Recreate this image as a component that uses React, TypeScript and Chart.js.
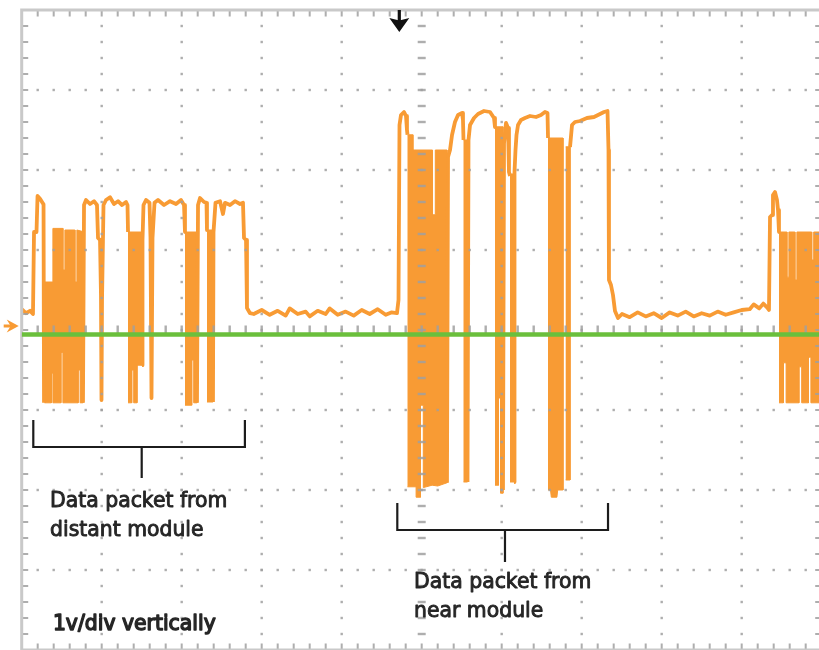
import { useEffect, useRef } from 'react';
import { Chart, registerables } from 'chart.js';

Chart.register(...registerables);

type Pair = [number, number];

// x: time in screen divisions (10 across), y: volts (1 V/div, 8 divisions)
const X_DIVISIONS = 10;
const Y_MIN_V = -4;
const Y_MAX_V = 4;
const MINOR_PER_DIV = 5;

const REFERENCE_LEVEL_V = -0.055;
const GROUND_MARKER_V = 0.05;
const TRIGGER_TIME = 4.72;

// ---- single-line parts of the trace (time, volts) ----
const traceLeadIn: Pair[] = [
  [0, 0.26], [0.054, 0.21], [0.104, 0.24], [0.141, 0.2], [0.154, 1.225], [0.185, 1.225],
  [0.198, 1.675], [0.229, 1.64], [0.26, 1.59], [0.273, 1.57], [0.279, -0.91],
];
const traceDistantAB: Pair[] = [
  [0.766, -0.91], [0.779, 1.5625], [0.804, 1.625], [0.854, 1.575], [0.904, 1.61], [0.941, 1.5625],
  [0.954, 1.15], [0.979, 1.125], [0.991, 0.4375], [0.9975, -0.875], [1.004, 0.375], [1.0225, 1.5625],
  [1.054, 1.625], [1.104, 1.66], [1.154, 1.575], [1.204, 1.61], [1.254, 1.5625], [1.304, 1.6],
  [1.3225, 1.5625], [1.329, 1.225],
];
const traceDistantBC: Pair[] = [
  [1.504, -0.44], [1.51, 1.125], [1.5225, 1.5625], [1.554, 1.625], [1.5975, 1.59], [1.61, 1.15],
  [1.6225, -0.85], [1.635, 1.15], [1.66, 1.59], [1.704, 1.625], [1.779, 1.5625], [1.854, 1.61],
  [1.929, 1.575], [1.991, 1.625], [2.029, 1.5625], [2.041, 1.225],
];
const traceDistantCD: Pair[] = [
  [2.191, -0.91], [2.204, 1.5625], [2.229, 1.65], [2.279, 1.6], [2.31, 1.59], [2.316, 1.25],
];
const traceIdleFirst: Pair[] = [
  [2.391, -0.9], [2.3975, 1.225], [2.4225, 1.59], [2.479, 1.61], [2.516, 1.45], [2.541, 1.59],
  [2.604, 1.5625], [2.666, 1.61], [2.729, 1.575], [2.766, 1.59], [2.779, 1.15], [2.804, 1.125],
  [2.816, 0.275], [2.854, 0.21], [2.9, 0.2], [3.0, 0.25], [3.1, 0.19], [3.2, 0.24], [3.3, 0.18],
  [3.35, 0.27], [3.45, 0.2], [3.55, 0.23], [3.6, 0.17], [3.7, 0.24], [3.8, 0.2], [3.85, 0.27],
  [3.95, 0.19], [4.05, 0.23], [4.15, 0.18], [4.25, 0.25], [4.35, 0.2], [4.45, 0.26], [4.55, 0.19],
  [4.62, 0.22], [4.691, 0.21], [4.71, 0.375], [4.7225, 2.5625], [4.741, 2.6875], [4.779, 2.725],
  [4.804, 2.675], [4.816, 2.5], [4.8225, 2.44],
];
const traceNearEF: Pair[] = [
  [5.316, -1.91], [5.329, 2.1625], [5.354, 2.25], [5.379, 2.4375], [5.416, 2.6], [5.454, 2.6875],
  [5.504, 2.7125], [5.516, 2.625], [5.5225, 2.375],
];
const traceNearFG: Pair[] = [
  [5.5725, -1.9], [5.585, 2.375], [5.604, 2.5625], [5.654, 2.65], [5.704, 2.7], [5.779, 2.7375],
  [5.854, 2.725], [5.904, 2.65], [5.916, 2.5375],
];
const traceNearGH: Pair[] = [
  [6.016, -2.0], [6.029, 2.3375], [6.054, 2.5875], [6.079, 2.525], [6.091, 1.975], [6.104, 1.925],
];
const traceNearHI: Pair[] = [
  [6.154, -1.9], [6.16, 1.975], [6.1725, 2.25], [6.185, 2.4375], [6.204, 2.5625], [6.241, 2.625],
  [6.291, 2.65], [6.354, 2.675], [6.429, 2.6625], [6.491, 2.6875], [6.541, 2.725], [6.5725, 2.7125],
  [6.579, 2.4],
];
const traceIdleSecond: Pair[] = [
  [6.854, 2.2875], [6.879, 2.5625], [6.916, 2.6], [6.979, 2.6125], [7.066, 2.65], [7.154, 2.6625],
  [7.229, 2.7], [7.279, 2.725], [7.3225, 2.7375], [7.335, 2.25], [7.341, 0.625], [7.366, 0.5625],
  [7.391, 0.4375], [7.416, 0.2375], [7.454, 0.15], [7.504, 0.2], [7.6, 0.16], [7.7, 0.22],
  [7.8, 0.17], [7.9, 0.21], [8.0, 0.15], [8.1, 0.22], [8.2, 0.18], [8.3, 0.23], [8.4, 0.17],
  [8.5, 0.21], [8.6, 0.18], [8.7, 0.23], [8.8, 0.19], [8.9, 0.22], [9.0, 0.25], [9.1, 0.26],
  [9.15, 0.32], [9.22, 0.27], [9.27, 0.33], [9.32, 0.28], [9.341, 0.25], [9.354, 1.4125],
  [9.379, 1.4375], [9.391, 1.6875], [9.416, 1.725], [9.441, 1.625], [9.454, 1.5], [9.466, 1.225],
];

// ---- dense data bursts: outline of each envelope (top left->right, bottom right->left) ----
const burstA: Pair[] = [
  [0.285, 0.6], [0.39, 0.6], [0.39, 1.27], [0.515, 1.27], [0.515, 0.75], [0.54, 0.75], [0.54, 1.25],
  [0.665, 1.25], [0.665, 0.6], [0.69, 0.6], [0.69, 1.25], [0.766, 1.23], [0.766, -0.91], [0.73, -0.91],
  [0.73, -0.5], [0.705, -0.5], [0.705, -0.91], [0.515, -0.91], [0.515, -0.28], [0.49, -0.28], [0.49, -0.91],
  [0.39, -0.91], [0.39, -0.54], [0.37, -0.54], [0.37, -0.91], [0.285, -0.91],
];
const burstB: Pair[] = [
  [1.329, 1.225], [1.504, 1.225], [1.504, -0.44], [1.441, -0.44], [1.441, -0.91], [1.4, -0.91],
  [1.4, -0.5], [1.375, -0.5], [1.375, -0.91], [1.329, -0.91],
];
const burstC: Pair[] = [
  [2.041, 1.225], [2.191, 1.225], [2.191, -0.91], [2.15, -0.91], [2.15, -0.375], [2.125, -0.375],
  [2.125, -0.94], [2.041, -0.94],
];
const burstD: Pair[] = [[2.316, 1.25], [2.391, 1.25], [2.391, -0.9], [2.316, -0.9]];
const burstE: Pair[] = [
  [4.8225, 2.44], [4.89, 2.44], [4.89, 2.25], [5.135, 2.25], [5.135, 1.44], [5.17, 1.44], [5.17, 2.25],
  [5.316, 2.25], [5.316, -1.91], [5.2, -1.95], [5.13, -1.94], [5.02, -1.97], [5.02, -0.94], [4.985, -0.94],
  [4.985, -2.09], [4.93, -2.09], [4.93, -1.96], [4.8225, -1.96],
];
const burstF: Pair[] = [[5.5225, 2.375], [5.5725, 2.375], [5.5725, -1.9], [5.5225, -1.9]];
const burstG: Pair[] = [
  [5.916, 2.54], [6.016, 2.54], [6.016, -2.04], [5.985, -2.04], [5.985, -0.85], [5.96, -0.85],
  [5.96, -1.94], [5.916, -1.94],
];
const burstH: Pair[] = [[6.104, 1.95], [6.154, 1.95], [6.154, -1.9], [6.104, -1.9]];
const burstI1: Pair[] = [
  [6.579, 2.4], [6.766, 2.4], [6.766, -2.0], [6.7, -2.0], [6.69, -2.09], [6.62, -2.09], [6.61, -2.0],
  [6.579, -2.0],
];
const burstI2: Pair[] = [[6.8, 2.29], [6.854, 2.29], [6.854, -1.875], [6.8, -1.875]];
const burstJ: Pair[] = [
  [9.466, 1.225], [9.565, 1.225], [9.565, 0.66], [9.59, 0.66], [9.59, 1.225], [9.665, 1.225],
  [9.665, 0.625], [9.69, 0.625], [9.69, 1.225], [9.875, 1.225], [9.875, 0.875], [9.9, 0.875],
  [9.9, 1.225], [10, 1.225], [10, -0.91], [9.865, -0.91], [9.865, -0.34], [9.835, -0.34], [9.835, -0.91],
  [9.75, -0.91], [9.75, -0.46], [9.715, -0.46], [9.715, -0.91], [9.555, -0.91], [9.555, -0.41],
  [9.52, -0.41], [9.52, -0.91], [9.466, -0.91],
];

const TRACE_SEGMENTS = [
  traceLeadIn, traceDistantAB, traceDistantBC, traceDistantCD, traceIdleFirst,
  traceNearEF, traceNearFG, traceNearGH, traceNearHI, traceIdleSecond,
];
const BURSTS = [burstA, burstB, burstC, burstD, burstE, burstF, burstG, burstH, burstI1, burstI2, burstJ];

// ---- annotations ----
const LABEL_DISTANT = ['Data packet from', 'distant module'];
const LABEL_NEAR = ['Data packet from', 'near module'];
const LABEL_SCALE = '1v/div vertically';

const BRACKETS = [
  { from: 0.145, to: 2.79, top: -1.125, bar: -1.4625, stem: 1.5, stemEnd: -1.85 },
  { from: 4.695, to: 7.329, top: -2.1625, bar: -2.5, stem: 6.041, stemEnd: -2.9 },
];
const TEXTS = [
  { lines: LABEL_DISTANT, t: 0.354, v: -2.2125, heavy: false },
  { lines: LABEL_NEAR, t: 4.904, v: -3.225, heavy: false },
  { lines: [LABEL_SCALE], t: 0.39, v: -3.75, heavy: true },
];

const ORANGE = '#f89b34';
const GREEN = '#6bbf3c';
const GRID_DOT = 'rgba(160,160,160,0.85)';
const BORDER = '#c9c9c9';
const INK = '#262626';

const toXY = (pts: Pair[]) => pts.map(([x, y]) => ({ x, y }));

function drawGraticule(chart: any) {
  const { ctx, chartArea: a, scales } = chart;
  const xs = scales.x;
  const ys = scales.y;
  const nx = X_DIVISIONS * MINOR_PER_DIV;
  const ndy = Y_MAX_V - Y_MIN_V;
  const ny = ndy * MINOR_PER_DIV;
  const d = 2.4;
  ctx.save();
  ctx.fillStyle = GRID_DOT;
  for (let i = 1; i < X_DIVISIONS; i++) {
    const px = xs.getPixelForValue(i);
    for (let j = 1; j < ny; j++) {
      const py = ys.getPixelForValue(Y_MIN_V + j / MINOR_PER_DIV);
      if (i * 2 === X_DIVISIONS) ctx.fillRect(px - 4, py - 1.2, 8, 2.4);
      else ctx.fillRect(px - d / 2, py - d / 2, d, d);
    }
  }
  for (let j = 1; j < ndy; j++) {
    const py = ys.getPixelForValue(Y_MIN_V + j);
    const center = j * 2 === ndy;
    for (let i = 1; i < nx; i++) {
      const px = xs.getPixelForValue(i / MINOR_PER_DIV);
      if (center) ctx.fillRect(px - 1.2, py - 4.5, 2.4, 8);
      else ctx.fillRect(px - d / 2, py - d / 2, d, d);
    }
  }
  for (let i = 1; i < nx; i++) {
    const px = xs.getPixelForValue(i / MINOR_PER_DIV);
    ctx.fillRect(px - 1, a.top, 2, 6.5);
    ctx.fillRect(px - 1, a.bottom - 6.5, 2, 6.5);
  }
  for (let j = 1; j < ny; j++) {
    const py = ys.getPixelForValue(Y_MIN_V + j / MINOR_PER_DIV);
    ctx.fillRect(a.left, py - 1, 6.5, 2);
    ctx.fillRect(a.right - 6.5, py - 1, 6.5, 2);
  }
  ctx.strokeStyle = BORDER;
  ctx.lineWidth = 3;
  ctx.strokeRect(a.left, a.top, a.right - a.left, a.bottom - a.top);
  ctx.restore();
}

const scopePlugin = {
  id: 'scopeDecor',
  beforeDatasetDraw(chart: any, args: any) {
    if (args.index === 0) drawGraticule(chart);
  },
  afterDraw(chart: any) {
    const { ctx, chartArea: a, scales } = chart;
    const xs = scales.x;
    const ys = scales.y;
    ctx.save();
    // trigger marker
    const tx = xs.getPixelForValue(TRIGGER_TIME);
    ctx.fillStyle = '#111';
    ctx.fillRect(tx - 1.6, a.top, 3.2, 11);
    ctx.beginPath();
    ctx.moveTo(tx - 10, a.top + 8);
    ctx.lineTo(tx, a.top + 10.5);
    ctx.lineTo(tx + 10, a.top + 8);
    ctx.lineTo(tx, a.top + 22);
    ctx.closePath();
    ctx.fill();
    // channel ground marker
    const gy = ys.getPixelForValue(GROUND_MARKER_V);
    ctx.fillStyle = ORANGE;
    ctx.beginPath();
    ctx.moveTo(a.left - 3, gy);
    ctx.lineTo(a.left - 15, gy - 6.5);
    ctx.lineTo(a.left - 11, gy);
    ctx.lineTo(a.left - 15, gy + 6.5);
    ctx.closePath();
    ctx.fill();
    ctx.fillRect(a.left - 18, gy - 1.5, 9, 3);
    // brackets
    ctx.strokeStyle = '#1c1c1c';
    ctx.lineWidth = 2.2;
    for (const b of BRACKETS) {
      const x1 = xs.getPixelForValue(b.from);
      const x2 = xs.getPixelForValue(b.to);
      const yt = ys.getPixelForValue(b.top);
      const yb = ys.getPixelForValue(b.bar);
      const xsx = xs.getPixelForValue(b.stem);
      const ye = ys.getPixelForValue(b.stemEnd);
      ctx.beginPath();
      ctx.moveTo(x1, yt);
      ctx.lineTo(x1, yb);
      ctx.lineTo(x2, yb);
      ctx.lineTo(x2, yt);
      ctx.moveTo(xsx, yb);
      ctx.lineTo(xsx, ye);
      ctx.stroke();
    }
    // labels
    ctx.font = '20.4px "DejaVu Sans"';
    ctx.textBaseline = 'alphabetic';
    ctx.textAlign = 'left';
    ctx.fillStyle = INK;
    ctx.strokeStyle = INK;
    ctx.lineJoin = 'round';
    for (const t of TEXTS) {
      const x0 = xs.getPixelForValue(t.t);
      const y0 = ys.getPixelForValue(t.v);
      ctx.lineWidth = t.heavy ? 1.4 : 0.9;
      t.lines.forEach((line, k) => {
        ctx.fillText(line, x0, y0 + k * 28.5);
        ctx.strokeText(line, x0, y0 + k * 28.5);
      });
    }
    ctx.restore();
  },
};

export default function App() {
  const ref = useRef<HTMLCanvasElement>(null);
  useEffect(() => {
    const datasets: any[] = [
      {
        data: toXY([[0, REFERENCE_LEVEL_V], [X_DIVISIONS, REFERENCE_LEVEL_V]]),
        borderColor: GREEN,
        borderWidth: 4.5,
        pointRadius: 0,
        fill: false,
        order: 0,
      },
      ...TRACE_SEGMENTS.map((seg) => ({
        data: toXY(seg),
        borderColor: ORANGE,
        borderWidth: 3.8,
        pointRadius: 0,
        fill: false,
        tension: 0,
        borderJoinStyle: 'round',
        order: 1,
      })),
      ...BURSTS.map((b) => ({
        data: toXY(b),
        borderColor: ORANGE,
        backgroundColor: ORANGE,
        borderWidth: 1,
        pointRadius: 0,
        fill: 'shape',
        tension: 0,
        order: 2,
      })),
    ];
    const chart = new Chart(ref.current as HTMLCanvasElement, {
      type: 'line',
      data: { datasets },
      options: {
        animation: false,
        responsive: false,
        maintainAspectRatio: false,
        events: [],
        layout: { padding: { left: 21.7, top: 10, right: 18.3, bottom: 10 } },
        scales: {
          x: { type: 'linear', min: 0, max: X_DIVISIONS, display: false },
          y: { type: 'linear', min: Y_MIN_V, max: Y_MAX_V, display: false },
        },
        plugins: { legend: { display: false }, tooltip: { enabled: false } },
      },
      plugins: [scopePlugin],
    } as any);
    return () => chart.destroy();
  }, []);
  return (
    <div
      style={{
        position: 'absolute',
        left: 0,
        top: 0,
        width: 819,
        height: 650,
        overflow: 'hidden',
        background: '#fff',
      }}
    >
      <canvas ref={ref} width={840} height={660} style={{ display: 'block', width: 840, height: 660 }} />
    </div>
  );
}
